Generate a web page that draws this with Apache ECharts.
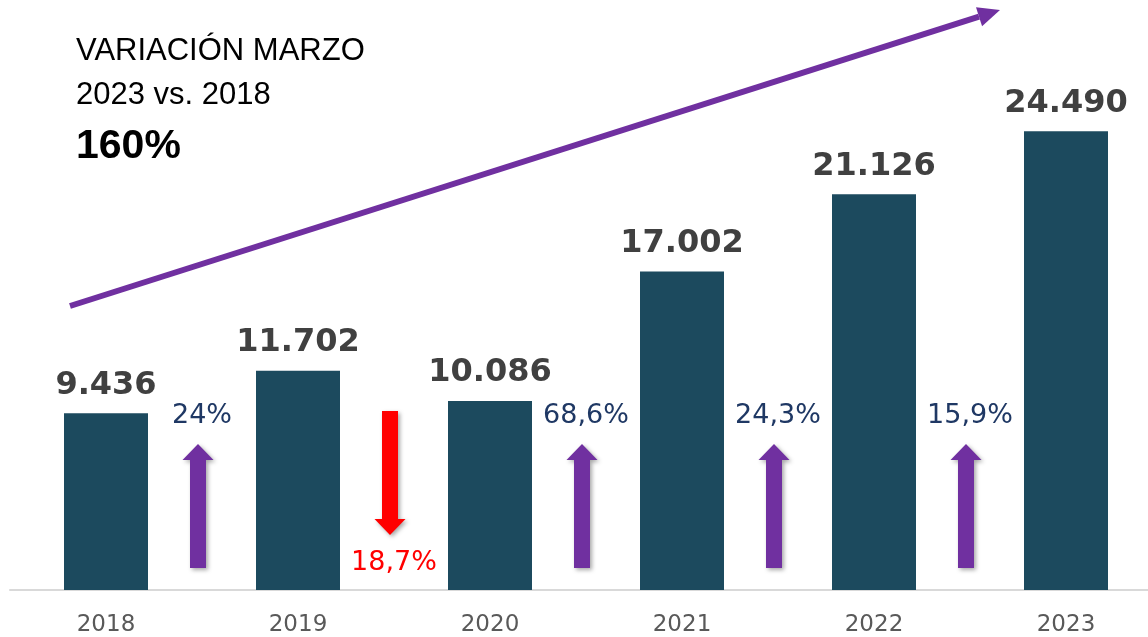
<!DOCTYPE html>
<html>
<head>
<meta charset="utf-8">
<script src="https://cdn.jsdelivr.net/npm/echarts@6/dist/echarts.min.js"></script>
<style>
  html, body { margin: 0; padding: 0; background: #fff; overflow: hidden; }
  /* the last bar's slot runs a bit past the right edge in the original */
  #main { width: 1162px; height: 637px; }
</style>
</head>
<body>
<div id="main"></div>
<script>
const years = ['2018', '2019', '2020', '2021', '2022', '2023'];
const values = [9436, 11702, 10086, 17002, 21126, 24490];
// variación entre años consecutivos (negativo = bajada)
const changes = [24, -18.7, 68.6, 24.3, 15.9];

const barColor = '#1c4a5e';
const purple = '#7030a0';

const myChart = echarts.init(document.getElementById('main'));

function fmtThousands(v) {
    return String(v).replace(/\B(?=(\d{3})+(?!\d))/g, '.');
}

function renderArrow(params, api) {
    const i = api.value(0);
    const pct = api.value(1);
    const p0 = api.coord([i, 0]);
    const p1 = api.coord([i + 1, 0]);
    const mid = (p0[0] + p1[0]) / 2;
    const cx = mid - 4;
    const base = p0[1];
    const up = pct > 0;
    let pts, labelY, color;
    if (up) {
        const bottom = base - 22, headBase = base - 130, tip = base - 146;
        pts = [[cx - 8, bottom], [cx + 8, bottom], [cx + 8, headBase], [cx + 15.5, headBase],
               [cx, tip], [cx - 15.5, headBase], [cx - 8, headBase]];
        labelY = base - 174;
        color = purple;
    } else {
        const top = base - 179, headBase = base - 71, tip = base - 55;
        pts = [[cx - 8, top], [cx + 8, top], [cx + 8, headBase], [cx + 15.5, headBase],
               [cx, tip], [cx - 15.5, headBase], [cx - 8, headBase]];
        labelY = base - 27;
        color = '#ff0000';
    }
    return {
        type: 'group',
        children: [
            {
                type: 'polygon',
                shape: { points: pts },
                style: {
                    fill: color,
                    shadowBlur: 4,
                    shadowColor: 'rgba(0,0,0,0.35)',
                    shadowOffsetX: 2,
                    shadowOffsetY: 2
                }
            },
            {
                type: 'text',
                x: mid,
                y: labelY,
                style: {
                    text: String(Math.abs(pct)).replace('.', ',') + '%',
                    fill: up ? '#1f3864' : '#ff0000',
                    font: '27px "DejaVu Sans"',
                    align: 'center',
                    verticalAlign: 'middle'
                }
            }
        ]
    };
}

// flecha grande diagonal
const tip = [1000, 10], start = [70, 306];
const dx = tip[0] - start[0], dy = tip[1] - start[1];
const len = Math.sqrt(dx * dx + dy * dy);
const ux = dx / len, uy = dy / len;
const headLen = 22, headHalf = 10;
const hb = [tip[0] - ux * headLen, tip[1] - uy * headLen];

let option = {
    animation: false,
    grid: { left: 10, right: 0, top: 28, bottom: 46 },
    xAxis: {
        type: 'category',
        data: years,
        axisLine: { lineStyle: { color: '#d9d9d9', width: 2 } },
        axisTick: { show: false },
        axisLabel: {
            color: '#595959',
            fontFamily: 'DejaVu Sans',
            fontSize: 23,
            margin: 24
        }
    },
    yAxis: {
        type: 'value',
        min: 0,
        max: 30000,
        show: false,
        splitLine: { show: false }
    },
    series: [
        {
            name: 'Valor',
            type: 'bar',
            data: values,
            barWidth: 84,
            itemStyle: { color: barColor },
            label: {
                show: true,
                position: 'top',
                distance: 12,
                color: '#404040',
                fontFamily: 'DejaVu Sans',
                fontWeight: 'bold',
                fontSize: 32,
                formatter: function (p) { return fmtThousands(p.value); }
            }
        },
        {
            name: 'Variación',
            type: 'custom',
            renderItem: renderArrow,
            data: changes.map(function (c, i) { return [i, c]; }),
            z: 5
        }
    ],
    graphic: [
        {
            type: 'text', left: 76, top: 36,
            style: { text: 'VARIACIÓN MARZO', fill: '#000', font: '31px "Liberation Sans"' }
        },
        {
            type: 'text', left: 76, top: 80,
            style: { text: '2023 vs. 2018', fill: '#000', font: '31px "Liberation Sans"' }
        },
        {
            type: 'text', left: 76, top: 126,
            style: { text: '160%', fill: '#000', font: 'bold 41px "Liberation Sans"' }
        },
        {
            type: 'line',
            shape: { x1: start[0], y1: start[1], x2: hb[0], y2: hb[1] },
            style: { stroke: purple, lineWidth: 6 }
        },
        {
            type: 'polygon',
            shape: {
                points: [
                    tip,
                    [hb[0] - uy * headHalf, hb[1] + ux * headHalf],
                    [hb[0] + uy * headHalf, hb[1] - ux * headHalf]
                ]
            },
            style: { fill: purple }
        }
    ]
};

myChart.setOption(option);
</script>
</body>
</html>
